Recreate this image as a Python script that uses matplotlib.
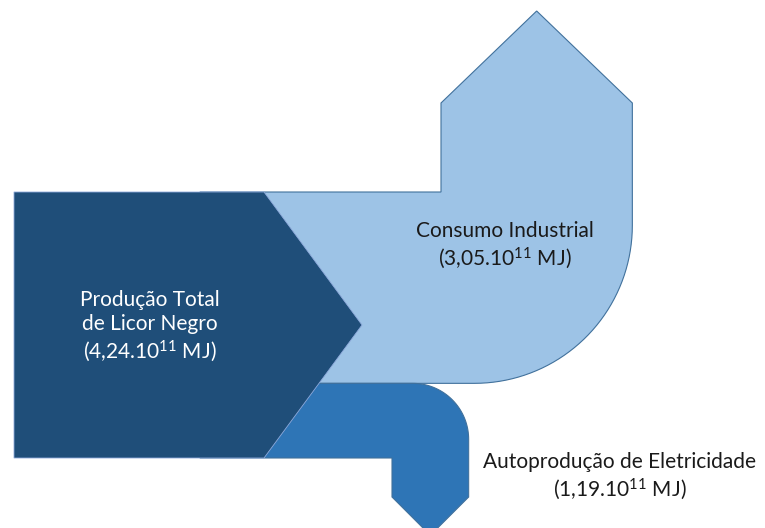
import numpy as np
import matplotlib.pyplot as plt
from matplotlib.patches import Polygon

plt.rcParams['font.family'] = ['Lato', 'DejaVu Sans']
plt.rcParams['mathtext.fontset'] = 'custom'
plt.rcParams['mathtext.rm'] = 'Lato'
plt.rcParams['mathtext.it'] = 'Lato'
plt.rcParams['mathtext.default'] = 'regular'

# fluxos de energia (10^11 MJ)
labels = ['Produção Total\nde Licor Negro\n(4,24.10$^{11}$ MJ)',
          'Consumo Industrial\n(3,05.10$^{11}$ MJ)',
          'Autoprodução de Eletricidade\n(1,19.10$^{11}$ MJ)']
values = [4.24, 3.05, 1.19]
colors = ['#1F4E79', '#9DC3E6', '#2E75B6']
edge = '#41719C'

# layout in pixel units (y down)
top = 192
total_h = 266
scale = total_h / values[0]
h_ind = values[1] * scale
h_ele = values[2] * scale
x0 = 14
x_body = 264
tip = 98


def arc(cx, cy, r, a0, a1, n=40):
    t = np.radians(np.linspace(a0, a1, n))
    return list(zip(cx + r * np.cos(t), cy + r * np.sin(t)))


fig = plt.figure(figsize=(7.65, 5.28), dpi=100)
ax = fig.add_axes([0, 0, 1, 1])
ax.set_xlim(0, 765)
ax.set_ylim(528, 0)
ax.axis('off')

# Consumo industrial: bends upward
y1 = top + h_ind
xl, xr = 441, 441 + h_ind
r1 = 158
head1 = 92
pts = [(200, top), (xl, top), (xl, top - 89), ((xl + xr) / 2, top - 89 - head1),
       (xr, top - 89), (xr, y1 - r1)]
pts += arc(xr - r1, y1 - r1, r1, 0, 90)
pts += [(200, y1)]
ax.add_patch(Polygon(pts, closed=True, fc=colors[1], ec=edge, lw=0.8, zorder=1))

# Autoproducao de eletricidade: bends downward
y2 = y1 + h_ele
xl2 = 392
xr2 = xl2 + h_ele + 2
r2 = 56
pts = [(200, y1), (xr2 - r2, y1)]
pts += arc(xr2 - r2, y1 + r2, r2, -90, 0)
pts += [(xr2, 497), ((xl2 + xr2) / 2, 497 + (xr2 - xl2) / 2), (xl2, 497), (xl2, y2), (200, y2)]
ax.add_patch(Polygon(pts, closed=True, fc=colors[2], ec=edge, lw=0.8, zorder=2))

# Producao total: chevron
pts = [(x0, top), (x_body, top), (x_body + tip, top + total_h / 2),
       (x_body, top + total_h), (x0, top + total_h)]
ax.add_patch(Polygon(pts, closed=True, fc=colors[0], ec='#8FAADC', lw=0.6, zorder=3))

ax.text(150, 327, labels[0], color='white', fontsize=15, ha='center', va='center',
        linespacing=1.25, zorder=4)
ax.text(505, 246, labels[1], color='#1a1a1a', fontsize=15, ha='center', va='center',
        linespacing=1.25, zorder=4)
ax.text(620, 477, labels[2], color='#1a1a1a', fontsize=15, ha='center', va='center',
        linespacing=1.25, zorder=4)

fig.savefig('out.png', dpi=100)
